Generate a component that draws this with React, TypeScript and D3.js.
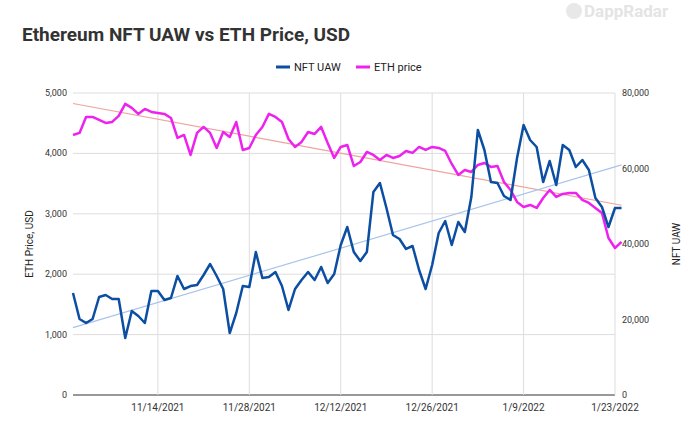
import React from "react";
import * as d3 from "d3";

const startDate = new Date(2021, 10, 1);
const ethPrice = [4305,4339,4604,4604,4554,4504,4521,4620,4819,4753,4654,4736,4687,4670,4654,4587,4256,4305,3974,4339,4438,4339,4090,4355,4272,4521,4057,4090,4305,4438,4654,4604,4521,4239,4107,4190,4355,4322,4438,4173,3925,
4107,4140,3792,3858,4024,3974,3891,3974,3925,3958,4040,4008,4107,4057,4107,4090,4040,3825,3643,3726,3693,3809,3842,3776,3792,3527,3395,3196,3113,3146,3097,3262,3395,3279,3329,3345,3345,3229,3180,3097,3014,2600,2434,2534];
const nftUaw = [27020,20130,19070,20130,25960,26490,25430,25430,15100,22250,20930,19070,27550,27550,25170,25700,31530,28080,28870,29140,31790,34700,31530,28080,16420,21720,28870,28610,37880,30990,31260,32590,28870,22520,28080,30460,32590,30460,33910,29670,32050,
39740,44500,37880,35500,37880,53770,56160,49540,42380,41320,38680,39470,33110,28080,34440,42910,46090,39740,45830,43180,52450,70200,64900,56420,56160,52720,51660,62780,71520,67550,65700,56420,61990,55630,66230,64900,60400,62250,59600,52190,49800,44500,49540,49540];
const dateTicks = ["11/14/2021", "11/28/2021", "12/12/2021", "12/26/2021", "1/9/2022", "1/23/2022"];
const leftTicks = [0, 1000, 2000, 3000, 4000, 5000];
const rightTicks = [0, 20000, 40000, 60000, 80000];

const dates = ethPrice.map((_, i) => d3.timeDay.offset(startDate, i));
const parse = d3.timeParse("%m/%d/%Y");

function trend(vals: number[]) {
  const n = vals.length;
  const xs = vals.map((_, i) => i);
  const mx = d3.mean(xs)!, my = d3.mean(vals)!;
  let num = 0, den = 0;
  xs.forEach((x, i) => { num += (x - mx) * (vals[i] - my); den += (x - mx) ** 2; });
  const b = num / den, a = my - b * mx;
  return [a, a + b * (n - 1)];
}

export default function App() {
  const L = 73, R = 615, T = 93, B = 395;
  const x = d3.scaleTime().domain([startDate, new Date(2021, 11, 31 + 23)]).range([L, R]);
  // 1/23/2022 maps to R
  const yL = d3.scaleLinear().domain([0, 5000]).range([B, T]);
  const yR = d3.scaleLinear().domain([0, 80000]).range([B, T]);
  const lineE = d3.line<number>().x((_, i) => x(dates[i])).y(d => yL(d));
  const lineU = d3.line<number>().x((_, i) => x(dates[i])).y(d => yR(d));
  const te = trend(ethPrice), tu = trend(nftUaw);
  const last = dates[dates.length - 1];
  const font = "Roboto, Arial, sans-serif";
  return (
    <svg width={700} height={433} style={{ position: "absolute", left: 0, top: 0, fontFamily: font }}>
      <rect width={700} height={433} fill="#fff" />
      <text x={584} y={17} fontSize={17} fill="#e4e4e4" fontWeight="bold">DappRadar</text>
      <circle cx={574} cy={11} r={8} fill="#e8e8e8" />
      <text x={22} y={41} fontSize={19} fontWeight="bold" fill="#333">Ethereum NFT UAW vs ETH Price, USD</text>
      <line x1={276} x2={290} y1={67} y2={67} stroke="#0b4ea2" strokeWidth={3} />
      <text x={294} y={71} fontSize={11} fill="#222">NFT UAW</text>
      <line x1={356} x2={370} y1={67} y2={67} stroke="#ee22ee" strokeWidth={3} />
      <text x={374} y={71} fontSize={11} fill="#222">ETH price</text>
      {leftTicks.map(t => (
        <g key={t}>
          <line x1={L} x2={R} y1={yL(t)} y2={yL(t)} stroke={t === 0 ? "#333" : "#ddd"} strokeWidth={1} />
          <text x={L - 6} y={yL(t) + 3} fontSize={9} textAnchor="end" fill="#333">{d3.format(",")(t)}</text>
        </g>
      ))}
      {rightTicks.map(t => (
        <text key={t} x={R + 7} y={yR(t) + 3} fontSize={9} fill="#333">{d3.format(",")(t)}</text>
      ))}
      {dateTicks.map(s => {
        const d = parse(s.replace(/^(\d)\//, "0$1/"))!;
        return (
          <g key={s}>
            <line x1={x(d)} x2={x(d)} y1={T} y2={B} stroke="#ddd" />
            <text x={x(d)} y={B + 16} fontSize={10} textAnchor="middle" fill="#333">{s}</text>
          </g>
        );
      })}
      <line x1={x(startDate)} x2={x(last)} y1={yL(te[0])} y2={yL(te[1])} stroke="#eea39e" strokeWidth={1.2} />
      <line x1={x(startDate)} x2={x(last)} y1={yR(tu[0])} y2={yR(tu[1])} stroke="#a9c4eb" strokeWidth={1.2} />
      <path d={lineE(ethPrice)!} fill="none" stroke="#ee22ee" strokeWidth={2.5} strokeLinejoin="round" />
      <path d={lineU(nftUaw)!} fill="none" stroke="#0b4ea2" strokeWidth={2.5} strokeLinejoin="round" />
      <text transform={`translate(33,${(T + B) / 2}) rotate(-90)`} fontSize={10} textAnchor="middle" fill="#222">ETH Price, USD</text>
      <text transform={`translate(680,${(T + B) / 2}) rotate(-90)`} fontSize={10} textAnchor="middle" fill="#222">NFT UAW</text>
    </svg>
  );
}
